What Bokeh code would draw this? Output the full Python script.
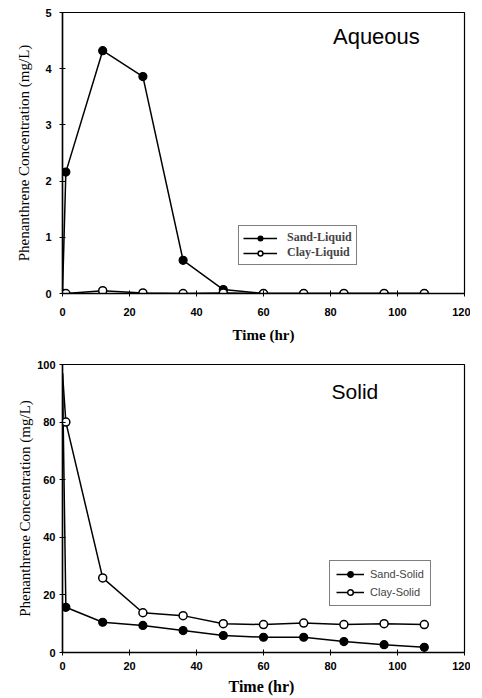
from bokeh.plotting import figure
from bokeh.layouts import column
from bokeh.models import FixedTicker, Legend, LegendItem, Label
from bokeh.embed import file_html
from bokeh.resources import INLINE

# ---- data ----
time = [0, 1, 12, 24, 36, 48, 60, 72, 84, 96, 108]
sand_liquid = [0, 2.16, 4.32, 3.86, 0.59, 0.07, 0.0, 0.0, 0.0, 0.0, 0.0]
clay_liquid = [0, 0.0, 0.05, 0.01, 0.0, 0.01, 0.0, 0.0, 0.0, 0.0, 0.0]

sand_solid = [97, 15.7, 10.5, 9.4, 7.6, 5.9, 5.3, 5.3, 3.8, 2.7, 1.8]
clay_solid = [97, 80.0, 25.9, 13.8, 12.8, 10.0, 9.7, 10.2, 9.7, 10.0, 9.7]

x_ticks = [0, 20, 40, 60, 80, 100, 120]
y_ticks_top = [0, 1, 2, 3, 4, 5]
y_ticks_bottom = [0, 20, 40, 60, 80, 100]

SERIF = "Liberation Serif"
SANS = "Liberation Sans"


def style(p, yticks, ylab_standoff, xlab_standoff, xlabel_size, tick_standoff_x, tick_standoff_y):
    p.xaxis.ticker = FixedTicker(ticks=x_ticks)
    p.yaxis.ticker = FixedTicker(ticks=yticks)
    p.xgrid.visible = False
    p.ygrid.visible = False
    p.outline_line_color = "black"
    p.outline_line_width = 1.2
    for ax in (p.xaxis[0], p.yaxis[0]):
        ax.axis_line_color = "black"
        ax.axis_line_width = 1.5
        ax.major_tick_in = 3
        ax.major_tick_out = 3
        ax.minor_tick_line_color = None
        ax.major_tick_line_color = "black"
        ax.major_label_text_font = SANS
        ax.major_label_text_font_style = "bold"
        ax.major_label_text_font_size = "11px"
        ax.major_label_text_color = "black"
        ax.axis_label_text_color = "black"
    p.yaxis.major_label_standoff = tick_standoff_y
    p.xaxis.major_label_standoff = tick_standoff_x
    p.yaxis.axis_label = "Phenanthrene Concentration (mg/L)"
    p.yaxis.axis_label_text_font = SERIF
    p.yaxis.axis_label_text_font_style = "normal"
    p.yaxis.axis_label_text_font_size = "15px"
    p.yaxis.axis_label_standoff = ylab_standoff
    p.xaxis.axis_label_text_font = SERIF
    p.xaxis.axis_label_text_font_style = "bold"
    p.xaxis.axis_label_text_font_size = xlabel_size
    p.xaxis.axis_label_standoff = xlab_standoff


# ---- top: aqueous ----
p1 = figure(width=470, height=345, x_range=(0, 120), y_range=(0, 5),
            output_backend="svg", toolbar_location=None,
            min_border_left=58, min_border_right=6, min_border_top=12, min_border_bottom=52)
p1.xaxis.axis_label = "Time (hr)"
style(p1, y_ticks_top, 10, 8, "15px", 11, 8)

l1 = p1.line(time, sand_liquid, line_color="black", line_width=1.5)
s1 = p1.scatter(time, sand_liquid, marker="circle", size=8, fill_color="black",
                line_color="black", line_width=1.2)
l2 = p1.line(time, clay_liquid, line_color="black", line_width=1.5)
s2 = p1.scatter(time, clay_liquid, marker="circle", size=8, fill_color="white",
                line_color="black", line_width=1.5)

leg1 = Legend(items=[LegendItem(label="Sand-Liquid", renderers=[l1, s1]),
                     LegendItem(label="Clay-Liquid", renderers=[l2, s2])],
              location=(176, 28), margin=0, padding=4, spacing=0,
              glyph_width=34, glyph_height=12, label_height=12, label_standoff=10,
              label_text_font=SERIF, label_text_font_style="bold",
              label_text_font_size="12px",
              border_line_color="black", border_line_width=1.2,
              background_fill_color="white", background_fill_alpha=1)
p1.add_layout(leg1)
p1.add_layout(Label(x=93.7, y=4.57, text="Aqueous", text_align="center",
                    text_baseline="middle", text_font=SANS, text_font_size="22px",
                    text_color="black"))

# ---- bottom: solid ----
p2 = figure(width=470, height=352, x_range=(0, 120), y_range=(0, 100),
            output_backend="svg", toolbar_location=None,
            min_border_left=62, min_border_right=4, min_border_top=19, min_border_bottom=45)
p2.xaxis.axis_label = "Time  (hr)"
style(p2, y_ticks_bottom, 1, 5, "16px", 6, 4)

l3 = p2.line(time, sand_solid, line_color="black", line_width=1.5)
s3 = p2.scatter(time[1:], sand_solid[1:], marker="circle", size=8, fill_color="black",
                line_color="black", line_width=1.2)
l4 = p2.line(time, clay_solid, line_color="black", line_width=1.5)
s4 = p2.scatter(time[1:], clay_solid[1:], marker="circle", size=8, fill_color="white",
                line_color="black", line_width=1.5)

leg2 = Legend(items=[LegendItem(label="Sand-Solid", renderers=[l3, s3]),
                     LegendItem(label="Clay-Solid", renderers=[l4, s4])],
              location=(267, 46), margin=0, padding=6, spacing=4,
              glyph_width=28, glyph_height=14, label_height=14, label_standoff=6,
              label_text_font=SANS, label_text_font_size="11px",
              border_line_color="black", border_line_width=1.2,
              background_fill_color="white", background_fill_alpha=1)
p2.add_layout(leg2)
p2.add_layout(Label(x=87.3, y=90.5, text="Solid", text_align="center",
                    text_baseline="middle", text_font=SANS, text_font_size="21px",
                    text_color="black"))

layout = column(p1, p2, spacing=0)
open("out.html", "w").write(file_html(layout, INLINE))
